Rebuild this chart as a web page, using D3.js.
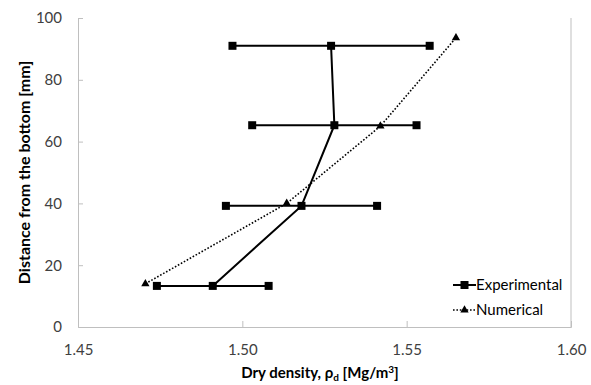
<!DOCTYPE html>
<html>
<head>
<meta charset="utf-8">
<script src="https://cdn.jsdelivr.net/npm/d3@7"></script>
<style>
  html, body { margin: 0; padding: 0; background: #fff; }
  svg { display: block; }
</style>
</head>
<body>
<svg id="chart" width="591" height="385"></svg>
<script>
// Measured dry density profile (mean with min/max range) and numerical prediction
const expHeight  = [13.3, 39.2, 65.3, 91.0];
const expDensity = [1.491, 1.518, 1.528, 1.527];
const expMin     = [1.474, 1.495, 1.503, 1.497];
const expMax     = [1.508, 1.541, 1.553, 1.557];

const numHeight  = [14.0, 40.0, 65.0, 93.6];
const numDensity = [1.4705, 1.5135, 1.542, 1.565];

const xTicks = [1.45, 1.50, 1.55, 1.60];
const yTicks = [0, 20, 40, 60, 80, 100];

const svg = d3.select("#chart");
const font = "Lato, 'Open Sans', sans-serif";

const x = d3.scaleLinear().domain([1.45, 1.60]).range([78, 571]);
const y = d3.scaleLinear().domain([0, 100]).range([327, 18]);

// Axes
const axisColor = "#bfbfbf";
const xAxis = svg.append("g").attr("transform", `translate(0,${y(0)})`)
  .call(d3.axisBottom(x).tickValues(xTicks).tickSize(-6).tickFormat(d3.format(".2f")).tickPadding(17));
const yAxis = svg.append("g").attr("transform", `translate(${x(1.45)},0)`)
  .call(d3.axisLeft(y).tickValues(yTicks).tickSize(-5).tickPadding(16));
[xAxis, yAxis].forEach(g => {
  g.select(".domain").attr("stroke", axisColor).attr("stroke-width", 1);
  g.selectAll(".tick line").attr("stroke", axisColor);
  g.selectAll(".tick text").attr("fill", "#404040").attr("font-size", 15).attr("font-family", font);
});
// no tick marks at the origin corner
xAxis.selectAll(".tick line").filter(d => d === 1.45).remove();
yAxis.selectAll(".tick line").filter(d => d === 0).remove();
// right-hand frame line
svg.append("line")
  .attr("x1", x(1.60)).attr("x2", x(1.60))
  .attr("y1", y(100)).attr("y2", y(0))
  .attr("stroke", axisColor).attr("stroke-width", 1);

// Axis titles
svg.append("text")
  .attr("x", 320).attr("y", 378)
  .attr("text-anchor", "middle").attr("font-family", font)
  .attr("font-size", 15).attr("font-weight", "bold").attr("fill", "#000")
  .call(t => {
    t.append("tspan").text("Dry density, ρ");
    t.append("tspan").attr("font-size", 10).attr("dy", 3).text("d");
    t.append("tspan").attr("dy", -3).text(" [Mg/m");
    t.append("tspan").attr("font-size", 10).attr("dy", -5).text("3");
    t.append("tspan").attr("dy", 5).text("]");
  });
svg.append("text")
  .attr("transform", `translate(30,${(y(0) + y(100)) / 2}) rotate(-90)`)
  .attr("text-anchor", "middle").attr("font-family", font)
  .attr("font-size", 16).attr("font-weight", "bold").attr("fill", "#000")
  .text("Distance from the bottom [mm]");

// Numerical: dotted line with triangles
const numPts = numHeight.map((h, i) => [numDensity[i], h]);
svg.append("path")
  .attr("d", d3.line().x(d => x(d[0])).y(d => y(d[1]))(numPts))
  .attr("fill", "none").attr("stroke", "#000")
  .attr("stroke-width", 1.6).attr("stroke-dasharray", "1.6,1.8");
const tri = d3.symbol().type(d3.symbolTriangle).size(30);
svg.selectAll(".numPt").data(numPts).join("path")
  .attr("transform", d => `translate(${x(d[0])},${y(d[1])})`)
  .attr("d", tri).attr("fill", "#000");

// Experimental: min–max range bars
expHeight.forEach((h, i) => {
  svg.append("line")
    .attr("x1", x(expMin[i])).attr("x2", x(expMax[i]))
    .attr("y1", y(h)).attr("y2", y(h))
    .attr("stroke", "#000").attr("stroke-width", 2);
  [expMin[i], expMax[i]].forEach(v => {
    svg.append("rect")
      .attr("x", x(v) - 4).attr("y", y(h) - 4)
      .attr("width", 8).attr("height", 8).attr("fill", "#000");
  });
});

// Experimental mean profile
const expPts = expHeight.map((h, i) => [expDensity[i], h]);
svg.append("path")
  .attr("d", d3.line().x(d => x(d[0])).y(d => y(d[1]))(expPts))
  .attr("fill", "none").attr("stroke", "#000").attr("stroke-width", 2);
svg.selectAll(".expPt").data(expPts).join("rect")
  .attr("x", d => x(d[0]) - 4).attr("y", d => y(d[1]) - 4)
  .attr("width", 8).attr("height", 8).attr("fill", "#000");

// Legend
const lg = svg.append("g").attr("font-family", font).attr("font-size", 15).attr("fill", "#000");
const lx0 = 453, lx1 = 476;
const row1 = 285, row2 = 310;
lg.append("line").attr("x1", lx0).attr("x2", lx1).attr("y1", row1).attr("y2", row1)
  .attr("stroke", "#000").attr("stroke-width", 2);
lg.append("rect").attr("x", (lx0 + lx1) / 2 - 4).attr("y", row1 - 4)
  .attr("width", 8).attr("height", 8).attr("fill", "#000");
lg.append("text").attr("x", 476).attr("y", row1 + 5).text("Experimental");
lg.append("line").attr("x1", lx0).attr("x2", lx1).attr("y1", row2).attr("y2", row2)
  .attr("stroke", "#000").attr("stroke-width", 1.6).attr("stroke-dasharray", "1.6,1.8");
lg.append("path").attr("transform", `translate(${(lx0 + lx1) / 2},${row2})`)
  .attr("d", tri).attr("fill", "#000");
lg.append("text").attr("x", 476).attr("y", row2 + 5).text("Numerical");
</script>
</body>
</html>
